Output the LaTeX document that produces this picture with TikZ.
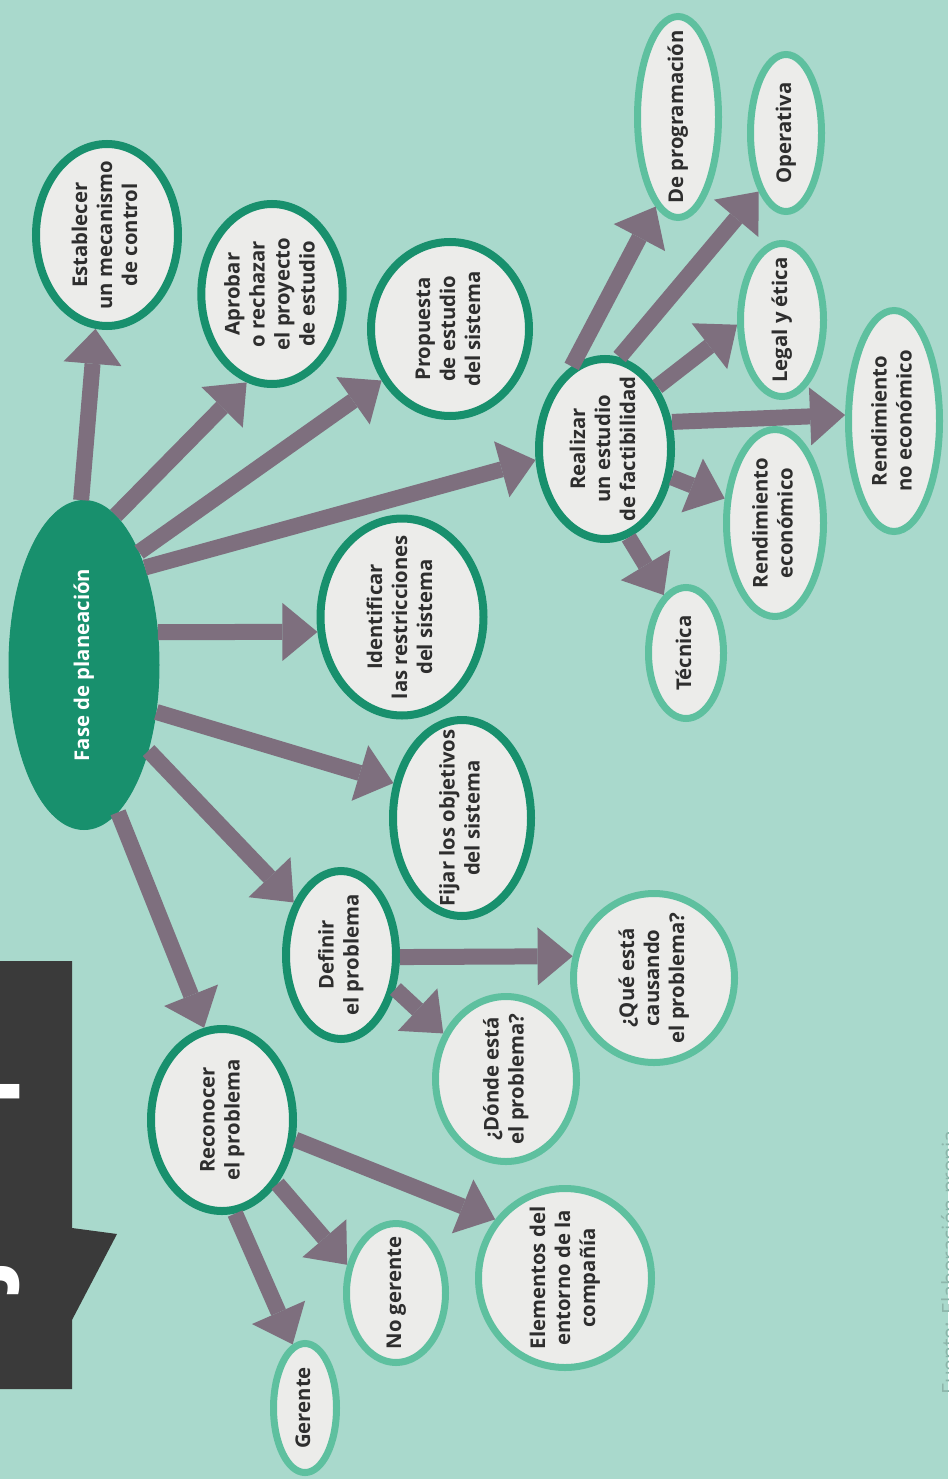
\documentclass[tikz,border=0pt]{standalone}
\usepackage{fontspec}
\setmainfont{Open Sans}
\usepackage{graphicx}
\usetikzlibrary{shapes.geometric,arrows.meta}
\definecolor{bgc}{HTML}{A9D9CC}
\definecolor{mainc}{HTML}{18906D}
\definecolor{subc}{HTML}{5EC09F}
\definecolor{nodec}{HTML}{ECECEA}
\definecolor{arrc}{HTML}{7E6F7E}
\definecolor{txtc}{HTML}{2E2E2E}
\definecolor{boxc}{HTML}{3A3A3A}
\definecolor{fnc}{HTML}{8DB5AA}
\newcommand{\rtxt}[1]{\rotatebox{90}{\makebox[0pt]{\begin{tabular}{@{}c@{}}#1\end{tabular}}}}
\begin{document}
\begin{tikzpicture}[x=1pt,y=-1pt,
  lbl/.style={ellipse, inner sep=0pt, font=\bfseries\fontsize{20.3}{25}\selectfont},
  mainnode/.style={lbl, draw=mainc, line width=8pt, fill=nodec, text=txtc},
  subnode/.style={lbl, draw=subc, line width=7pt, fill=nodec, text=txtc},
  rootnode/.style={lbl, draw=mainc, fill=mainc, line width=1pt, text=white},
  arr/.style={draw=arrc, line width=16pt, -{Triangle[length=35pt,width=58pt,line width=0pt]}}]
\useasboundingbox (0,0) rectangle (948,1479);
\clip (0,0) rectangle (948,1479);
\fill[bgc] (0,0) rectangle (948,1479);
% Ejemplo tab
\fill[boxc] (0,961) -- (72,961) -- (72,1228) -- (117,1234) -- (72,1320) -- (72,1389) -- (0,1389) -- cycle;
\node[rotate=90, anchor=base west, inner sep=0pt, text=white, font=\bfseries\fontsize{97}{97}\selectfont] (ejemplo) at (-4,1343) {Ejemplo};
% footnote
\node[rotate=90, anchor=base west, inner sep=0pt, text=fnc, font=\fontsize{21}{21}\selectfont] (fuente) at (957,1395) {Fuente: Elaboración propia};
% root
\node[rootnode, minimum width=150pt, minimum height=329pt] (fase) at (84,665) {\rtxt{Fase de planeación}};
% main nodes
\node[mainnode, minimum width=142pt, minimum height=182pt] (est) at (107,235) {\rtxt{Establecer\\un mecanismo\\de control}};
\node[mainnode, minimum width=141pt, minimum height=180pt] (apr) at (272,294) {\rtxt{Aprobar\\o rechazar\\el proyecto\\de estudio}};
\node[mainnode, minimum width=158pt, minimum height=174pt] (prop) at (450,329) {\rtxt{Propuesta\\de estudio\\del sistema}};
\node[mainnode, minimum width=132pt, minimum height=180pt] (real) at (605,449) {\rtxt{Realizar\\un estudio\\de factibilidad}};
\node[mainnode, minimum width=163pt, minimum height=197pt] (iden) at (402,617) {\rtxt{Identificar\\las restricciones\\del sistema}};
\node[mainnode, minimum width=138pt, minimum height=196pt] (fijar) at (462,818) {\rtxt{Fijar los objetivos\\del sistema}};
\node[mainnode, minimum width=110pt, minimum height=168pt] (defi) at (341,955) {\rtxt{Definir\\el problema}};
\node[mainnode, minimum width=142pt, minimum height=182pt] (reco) at (222,1120) {\rtxt{Reconocer\\el problema}};
% sub nodes
\node[subnode, minimum width=81pt, minimum height=201pt] (prog) at (678,117) {\rtxt{De programación}};
\node[subnode, minimum width=71pt, minimum height=157pt] (oper) at (786,133) {\rtxt{Operativa}};
\node[subnode, minimum width=83pt, minimum height=153pt] (legal) at (782,320) {\rtxt{Legal y ética}};
\node[subnode, minimum width=91pt, minimum height=221pt] (rneco) at (894,421) {\rtxt{Rendimiento\\no económico}};
\node[subnode, minimum width=97pt, minimum height=187pt] (receco) at (775,523) {\rtxt{Rendimiento\\económico}};
\node[subnode, minimum width=75pt, minimum height=131pt] (tec) at (686,653) {\rtxt{Técnica}};
\node[subnode, minimum width=141pt, minimum height=165pt] (donde) at (506,1079) {\rtxt{¿Dónde está\\el problema?}};
\node[subnode, minimum width=161pt, minimum height=169pt] (que) at (654,978) {\rtxt{¿Qué está\\causando\\el problema?}};
\node[subnode, minimum width=99pt, minimum height=139pt] (noger) at (396,1293) {\rtxt{No gerente}};
\node[subnode, minimum width=173pt, minimum height=179pt] (elem) at (565,1278) {\rtxt{Elementos del\\entorno de la\\compañía}};
\node[subnode, minimum width=63pt, minimum height=129pt] (ger) at (305,1408) {\rtxt{Gerente}};
% arrows from root
\draw[arr] (fase.91) -- (est.263);
\draw[arr] (fase.78) -- (apr.254);
\draw[arr] (fase.64) -- (prop.217);
\draw[arr] (fase.58) -- (real.189);
\draw[arr] (fase.24) -- (iden.190);
\draw[arr] (fase.327) -- (fijar.153);
\draw[arr] (fase.307) -- (defi.132);
\draw[arr] (fase.283) -- (reco.101);
% from Reconocer
\draw[arr] (reco.278) -- (ger.101);
\draw[arr] (reco.311) -- (noger.150);
\draw[arr] (reco.345) -- (elem.140);
% from Definir
\draw[arr] (defi.328) -- (donde.144);
\draw[arr] (defi.358) -- (que.165);
% from Realizar
\draw[arr] (real.112) -- (prog.256);
\draw[arr] (real.81) -- (oper.245);
\draw[arr] (real.50) -- (legal.186);
\draw[arr] (real.22) -- (rneco.173);
\draw[arr] (real.337) -- (receco.154);
\draw[arr] (real.285) -- (tec.111);
\end{tikzpicture}
\end{document}
